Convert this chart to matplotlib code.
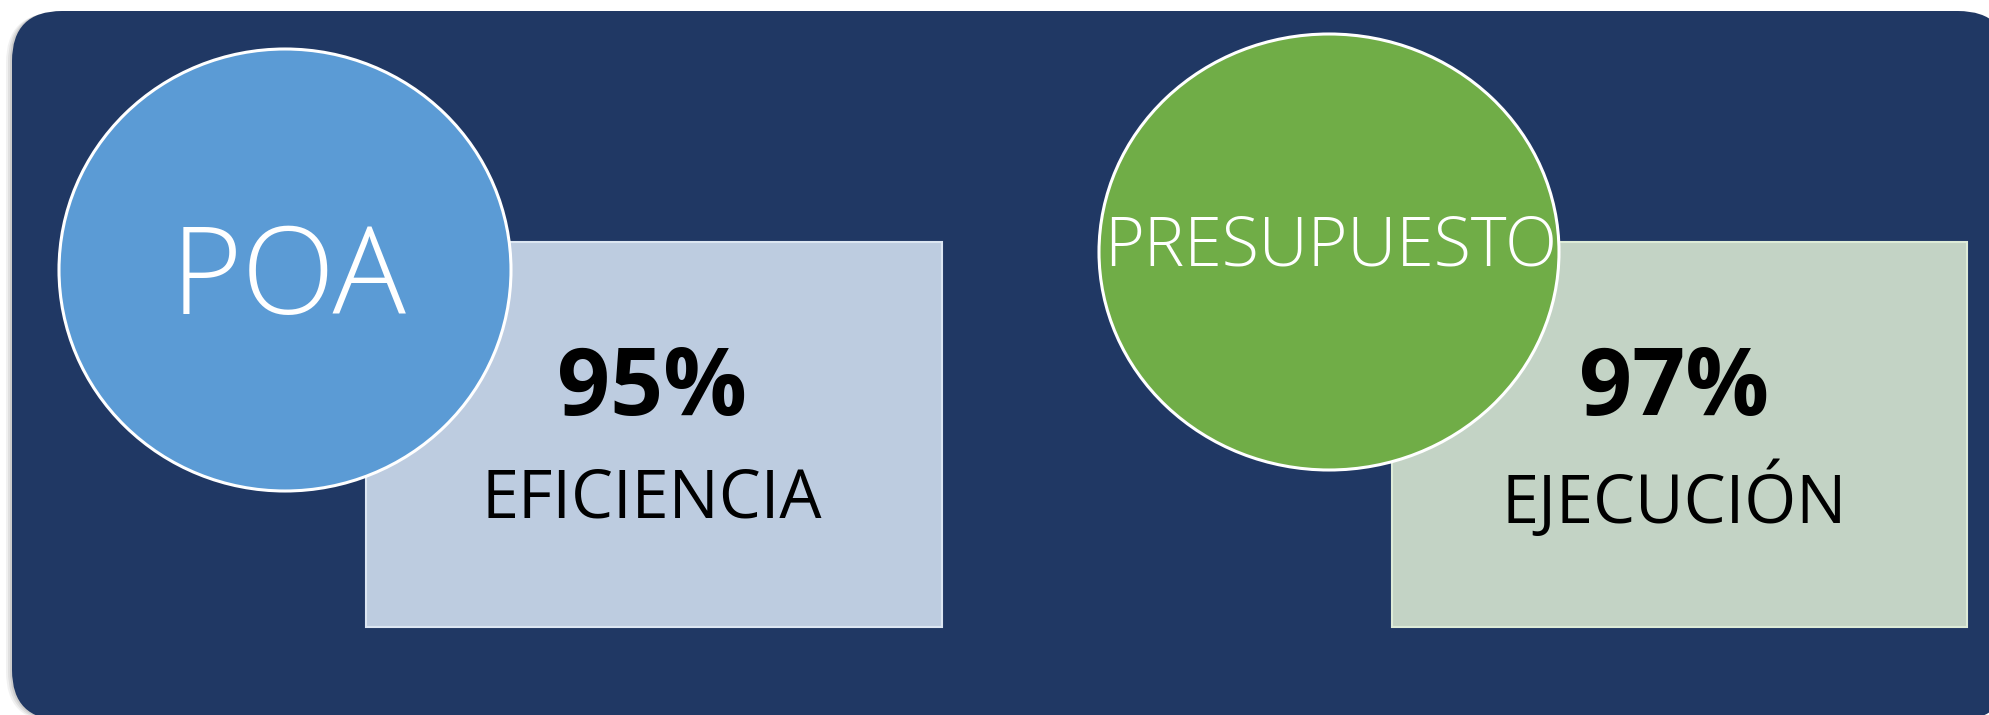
import matplotlib
matplotlib.use("Agg")
import matplotlib.pyplot as plt
from matplotlib.patches import FancyBboxPatch, Ellipse, Rectangle

# ---- Data ----
circle_labels = ["POA", "PRESUPUESTO"]
percent_values = [95, 97]
box_labels = ["EFICIENCIA", "EJECUCIÓN"]

# ---- Style ----
bg_color = "#203864"
circle_colors = ["#5B9BD5", "#70AD47"]
box_colors = ["#BDCCE0", "#C3D3C5"]
box_edges = ["#DCE6F2", "#DDEBD8"]
circle_font = [88, 49]

# layout in pixel units (figure is 1990 x 715)
circle_xy = [(285, 270), (1329, 252)]
circle_wh = [(452, 442), (460, 436)]
circle_txt = [(289, 282), (1331, 248)]
box_xy = [(366, 242), (1392, 242)]
box_wh = [(576, 385), (575, 385)]

W, H = 1990, 715
fig = plt.figure(figsize=(W / 100, H / 100), dpi=100)
ax = fig.add_axes([0, 0, 1, 1])
ax.set_xlim(0, W)
ax.set_ylim(H, 0)
ax.axis("off")

# soft shadow + navy panel (runs off the right and bottom edges)
for off, a in [(6, 0.10), (4, 0.15), (2, 0.2)]:
    ax.add_patch(FancyBboxPatch((12 - off, 11 + off * 0.3), 1996, 709,
                                boxstyle="round,pad=0,rounding_size=50",
                                fc="#7f7f7f", ec="none", alpha=a))
ax.add_patch(FancyBboxPatch((12, 11), 1996, 709,
                            boxstyle="round,pad=0,rounding_size=50",
                            fc=bg_color, ec="none"))

for i in range(2):
    bx, by = box_xy[i]
    bw, bh = box_wh[i]
    ax.add_patch(Rectangle((bx, by), bw, bh, fc=box_colors[i],
                           ec=box_edges[i], lw=1.5, zorder=2))
    ax.add_patch(Ellipse(circle_xy[i], *circle_wh[i], fc=circle_colors[i],
                         ec="white", lw=2.2, zorder=3))
    ax.text(*circle_txt[i], circle_labels[i], color="white",
            fontsize=circle_font[i], family="Open Sans", fontweight="light",
            ha="center", va="center", zorder=4)
    cx = bx + bw / 2 + (-2 if i == 0 else -5)
    ax.text(cx, 390, f"{percent_values[i]}%", color="black", fontsize=67,
            family="Open Sans", fontweight="bold", ha="center", va="center",
            zorder=4)
    ax.text(cx, 500, box_labels[i], color="black", fontsize=48,
            family="Open Sans", ha="center", va="center", zorder=4)

fig.savefig("out.png", dpi=100, facecolor="white")
